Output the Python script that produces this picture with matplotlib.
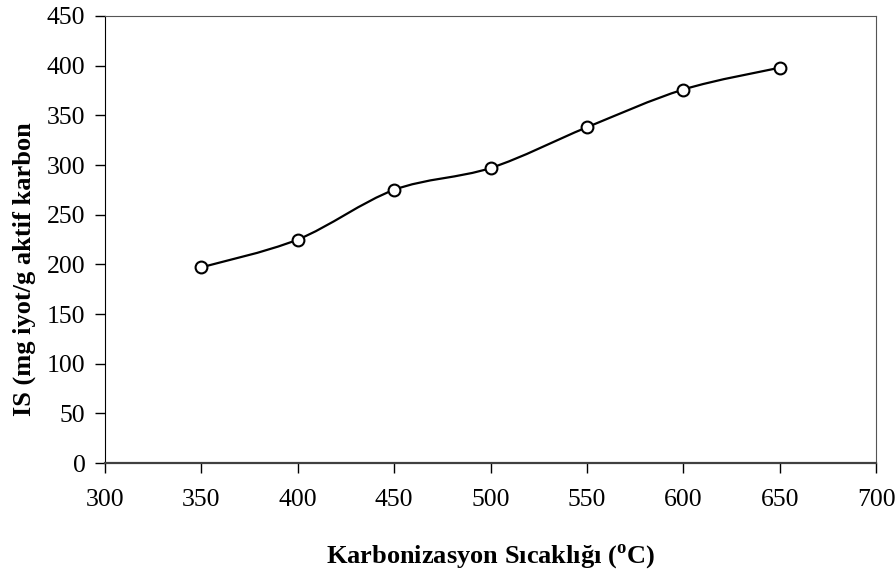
import numpy as np
import matplotlib
matplotlib.use("Agg")
import matplotlib.pyplot as plt
from matplotlib.path import Path
from matplotlib.patches import PathPatch

# data
temps = [350, 400, 450, 500, 550, 600, 650]
iodine = [197, 225, 275, 297, 338, 376, 398]
xticks = [300, 350, 400, 450, 500, 550, 600, 650, 700]
yticks = [0, 50, 100, 150, 200, 250, 300, 350, 400, 450]

plt.rcParams["font.family"] = ["Liberation Serif", "DejaVu Serif"]
plt.rcParams["mathtext.fontset"] = "custom"
plt.rcParams["mathtext.rm"] = "Liberation Serif"
plt.rcParams["mathtext.bf"] = "Liberation Serif:bold"

fig = plt.figure(figsize=(8.96, 5.71), dpi=100)
ax = fig.add_axes([0.117, 0.189, 0.861, 0.783])

# smoothed line like Excel (Catmull-Rom to bezier)
x = np.array(temps, float)
y = np.array(iodine, float)
verts = [(x[0], y[0])]
codes = [Path.MOVETO]
for i in range(len(x) - 1):
    x0, y0 = (x[i - 1], y[i - 1]) if i > 0 else (x[i], y[i])
    x3, y3 = (x[i + 2], y[i + 2]) if i + 2 < len(x) else (x[i + 1], y[i + 1])
    c1 = (x[i] + (x[i + 1] - x0) / 6, y[i] + (y[i + 1] - y0) / 6)
    c2 = (x[i + 1] - (x3 - x[i]) / 6, y[i + 1] - (y3 - y[i]) / 6)
    verts += [c1, c2, (x[i + 1], y[i + 1])]
    codes += [Path.CURVE4] * 3
ax.add_patch(PathPatch(Path(verts, codes), fill=False, lw=1.6, color="black"))
ax.plot(temps, iodine, "o", ms=8.5, mfc="white", mec="black", mew=1.5, zorder=3)

ax.set_xlim(300, 700)
ax.set_ylim(0, 450)
ax.set_xticks(xticks)
ax.set_yticks(yticks)
ax.tick_params(labelsize=18.5, length=7, width=1, direction="out", colors="black")
ax.tick_params(axis="x", pad=12)
ax.tick_params(axis="y", pad=7)
for s in ["top", "right"]:
    ax.spines[s].set_color("#555555")
ax.spines["bottom"].set_color("#404040")
ax.spines["bottom"].set_linewidth(1.6)
ax.spines["left"].set_color("black")

ax.set_xlabel(r"Karbonizasyon Sıcaklığı ($^{\mathbf{o}}$C)", fontsize=19, fontweight="bold", labelpad=22)
ax.set_ylabel("IS (mg iyot/g aktif karbon", fontsize=19, fontweight="bold")
ax.yaxis.set_label_coords(-0.089, 0.434)

fig.savefig("out.png", dpi=100)
